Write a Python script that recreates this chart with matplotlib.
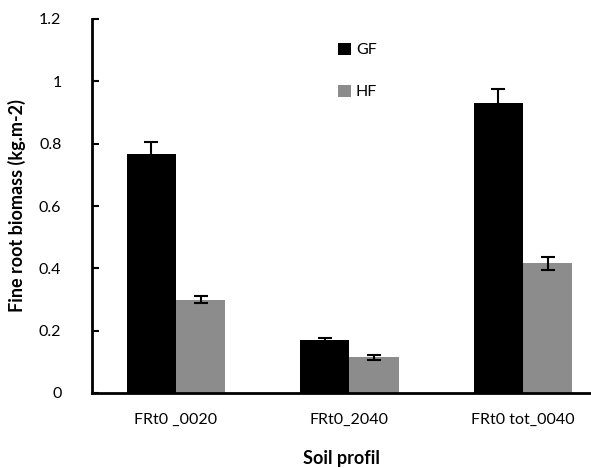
import numpy as np
import matplotlib
matplotlib.use("Agg")
import matplotlib.pyplot as plt

plt.rcParams['font.family'] = ['Lato', 'DejaVu Sans']

categories = ['FRt0 _0020', 'FRt0_2040', 'FRt0 tot_0040']
gf_values = [0.768, 0.170, 0.932]
gf_err = [0.037, 0.006, 0.045]
hf_values = [0.300, 0.115, 0.416]
hf_err = [0.011, 0.008, 0.020]

fig = plt.figure(figsize=(5.91, 4.68), dpi=100)
ax = fig.add_axes([92 / 591, 75 / 468, 499 / 591, 374 / 468])

x = np.arange(len(categories))
w = 0.285
ax.bar(x - w / 2, gf_values, w, color='black', label='GF',
       yerr=gf_err, error_kw=dict(ecolor='black', capsize=5, elinewidth=1.5, capthick=1.5))
ax.bar(x + w / 2, hf_values, w, color='#8c8c8c', label='HF',
       yerr=hf_err, error_kw=dict(ecolor='black', capsize=5, elinewidth=1.5, capthick=1.5))

ax.set_xlim(-0.484, 2.392)
ax.set_ylim(0, 1.2)
ax.set_yticks([0, 0.2, 0.4, 0.6, 0.8, 1.0, 1.2])
ax.set_yticklabels(['0', '0.2', '0.4', '0.6', '0.8', '1', '1.2'])
ax.set_xticks(x)
ax.set_xticklabels(categories)

ax.spines['top'].set_visible(False)
ax.spines['right'].set_visible(False)
ax.spines['left'].set_linewidth(2)
ax.spines['bottom'].set_linewidth(2)
ax.tick_params(axis='y', direction='in', length=5, width=1.5, labelsize=11.5, pad=22)
ax.tick_params(axis='x', length=0, labelsize=11.5, pad=14)

ax.set_xlabel('Soil profil', fontsize=13, fontweight='bold', labelpad=17)
ax.set_ylabel('Fine root biomass (kg.m-2)', fontsize=13, fontweight='bold', labelpad=9)

ax.legend(loc='upper left', bbox_to_anchor=(0.465, 0.975), frameon=False, fontsize=11.5,
          handlelength=0.8, handleheight=0.8, handletextpad=0.3, labelspacing=1.7)

fig.savefig('out.png', dpi=100)
